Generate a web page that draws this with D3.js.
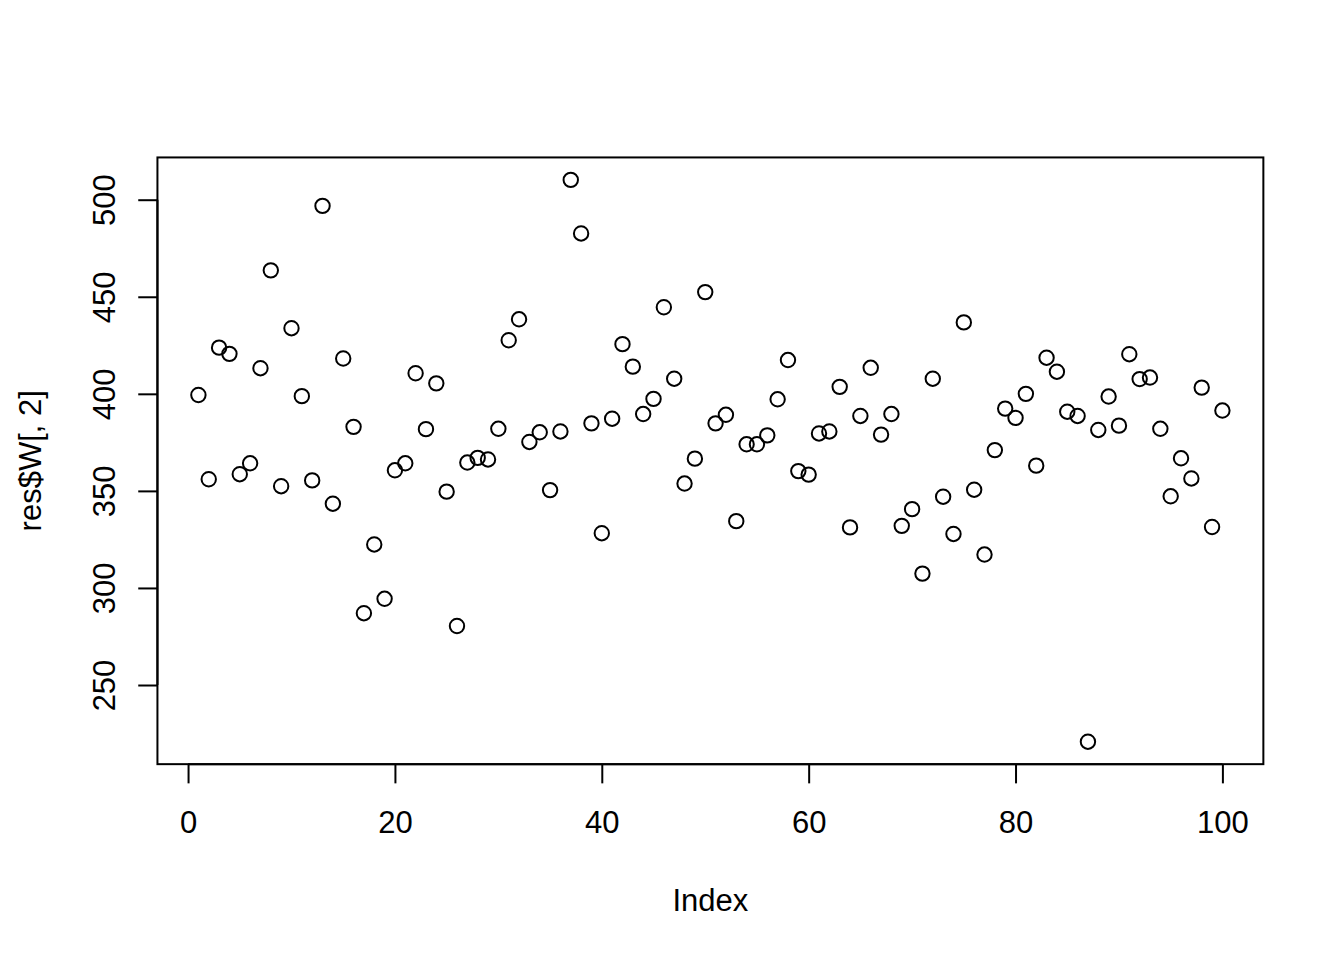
<!DOCTYPE html>
<html>
<head>
<meta charset="utf-8">
<script src="https://cdn.jsdelivr.net/npm/d3@7"></script>
<style>
  html, body { margin: 0; padding: 0; background: #fff; }
  svg { display: block; }
  text { font-family: "Liberation Sans", Arial, Helvetica, sans-serif; fill: #000; }
</style>
</head>
<body>
<svg id="chart" width="1344" height="960"></svg>
<script>
// Data: res$W[, 2] by index 1..100
const indices = d3.range(1, 101);
const values = [
  399.4, 356.0, 423.8, 420.6, 358.6, 364.2, 413.2, 463.6, 352.4, 433.8,
  398.8, 355.4, 496.8, 343.4, 418.2, 383.0, 287.0, 322.4, 294.4, 360.6,
  364.2, 410.6, 381.8, 405.4, 349.6, 280.4, 364.6, 367.0, 366.2, 382.0,
  427.6, 438.4, 375.2, 380.2, 350.4, 380.6, 510.2, 482.6, 384.8, 328.2,
  387.2, 425.6, 414.0, 389.6, 397.4, 444.6, 407.8, 353.8, 366.6, 452.4,
  384.8, 389.2, 334.4, 374.0, 374.0, 378.6, 397.2, 417.4, 360.2, 358.4,
  379.6, 380.6, 403.6, 331.2, 388.6, 413.4, 379.0, 389.6, 332.0, 340.6,
  307.4, 407.8, 347.0, 327.8, 436.8, 350.6, 317.2, 371.0, 392.4, 387.6,
  400.0, 363.0, 418.6, 411.4, 390.8, 388.6, 220.8, 381.4, 398.6, 383.6,
  420.4, 407.6, 408.4, 382.0, 347.2, 366.8, 356.4, 403.2, 331.4, 391.4
];
const xTicks = [0, 20, 40, 60, 80, 100];
const yTicks = [250, 300, 350, 400, 450, 500];
const xLabel = "Index";
const yLabel = "res$W[, 2]";

(function () {
const W = 1344, H = 960;
const lh = 38.4;
const pLeft = 4.1 * lh, pRight = W - 2.1 * lh, pTop = 4.1 * lh, pBottom = H - 5.1 * lh;

const svg = d3.select("#chart");

// R-style 4% axis extension
const xMin = d3.min(indices), xMax = d3.max(indices);
const xPad = (xMax - xMin) * 0.04;
const yMin = d3.min(values), yMax = d3.max(values);
const yPad = (yMax - yMin) * 0.04;

const x = d3.scaleLinear().domain([xMin - xPad, xMax + xPad]).range([pLeft, pRight]);
const y = d3.scaleLinear().domain([yMin - yPad, yMax + yPad]).range([pBottom, pTop]);

// Box
svg.append("rect")
  .attr("x", pLeft).attr("y", pTop)
  .attr("width", pRight - pLeft).attr("height", pBottom - pTop)
  .attr("fill", "none").attr("stroke", "#000").attr("stroke-width", 2);

// X axis
const xAxis = d3.axisBottom(x).tickValues(xTicks).tickSize(19.2).tickPadding(0).tickFormat(d3.format("d"));
const gx = svg.append("g").attr("transform", `translate(0,${pBottom})`).call(xAxis);
gx.select(".domain").attr("d", `M${x(xTicks[0])},0H${x(xTicks[xTicks.length-1])}`).attr("stroke-width", 2);
gx.selectAll(".tick line").attr("stroke-width", 2);
gx.selectAll(".tick text")
  .attr("y", 69).attr("dy", null)
  .style("font-size", "31px")
  .style("font-family", '"Liberation Sans", Arial, sans-serif');

// Y axis
const yAxis = d3.axisLeft(y).tickValues(yTicks).tickSize(19.2).tickPadding(0).tickFormat(d3.format("d"));
const gy = svg.append("g").attr("transform", `translate(${pLeft},0)`).call(yAxis);
gy.select(".domain").attr("d", `M0,${y(yTicks[0])}V${y(yTicks[yTicks.length-1])}`).attr("stroke-width", 2);
gy.selectAll(".tick line").attr("stroke-width", 2);
gy.selectAll(".tick text")
  .attr("x", null).attr("dy", null)
  .attr("text-anchor", "middle")
  .attr("transform", "translate(-42,0) rotate(-90)")
  .attr("y", 0)
  .style("font-size", "31px")
  .style("font-family", '"Liberation Sans", Arial, sans-serif');

// Axis titles
svg.append("text")
  .attr("x", (pLeft + pRight) / 2).attr("y", 911)
  .attr("text-anchor", "middle")
  .style("font-size", "31px")
  .text(xLabel);

svg.append("text")
  .attr("transform", `translate(41,${(pTop + pBottom) / 2}) rotate(-90)`)
  .attr("text-anchor", "middle")
  .style("font-size", "31px")
  .text(yLabel);

// Points
svg.append("g")
  .selectAll("circle")
  .data(values)
  .join("circle")
  .attr("cx", (d, i) => x(indices[i]))
  .attr("cy", d => y(d))
  .attr("r", 7.2)
  .attr("fill", "none")
  .attr("stroke", "#000")
  .attr("stroke-width", 2);
})();
</script>
</body>
</html>
